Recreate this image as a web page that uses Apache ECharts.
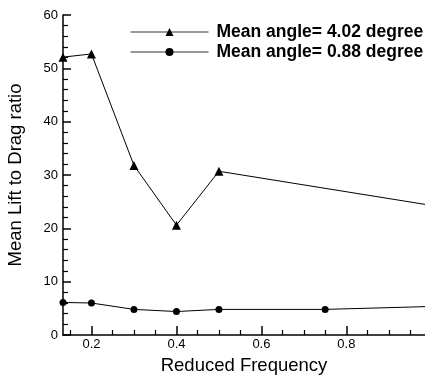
<!DOCTYPE html>
<html>
<head>
<meta charset="utf-8">
<script src="https://cdn.jsdelivr.net/npm/echarts@6/dist/echarts.min.js"></script>
<style>
  html, body { margin: 0; padding: 0; background: #fff; }
  #chart { width: 425px; height: 377px; }
</style>
</head>
<body>
<div id="chart"></div>
<script>
// Reduced frequency samples and mean lift-to-drag ratio for two mean angles
const seriesNames = ['Mean angle= 4.02 degree', 'Mean angle= 0.88 degree'];
const freqHigh = [0.133, 0.2, 0.3, 0.4, 0.5, 1.0];
const ratioHigh = [52.1, 52.7, 31.8, 20.6, 30.7, 24.3];
const freqLow = [0.133, 0.2, 0.3, 0.4, 0.5, 0.75, 1.0];
const ratioLow = [6.1, 6.0, 4.8, 4.4, 4.8, 4.8, 5.35];

// Axis ranges and tick positions
const xMin = 0.133, xMax = 0.985;
const xMajorTicks = [0.2, 0.4, 0.6, 0.8];
const xMinorTicks = [0.15, 0.25, 0.3, 0.35, 0.45, 0.5, 0.55, 0.65, 0.7, 0.75, 0.85, 0.9, 0.95];
const yMin = 0, yMax = 60, yStep = 10;

const pairs = (xs, ys) => xs.map((x, i) => [x, ys[i]]);
const font = 'Liberation Sans, Arial, sans-serif';

const chart = echarts.init(document.getElementById('chart'));
chart.setOption({
  animation: false,
  backgroundColor: '#fff',
  grid: { left: 63, top: 15, right: 0, bottom: 42, outerBoundsMode: 'none', containLabel: false },
  legend: {
    orient: 'vertical',
    left: 125,
    top: 17,
    itemWidth: 78,
    itemHeight: 10,
    itemGap: 0,
    lineStyle: { width: 1, color: '#333' },
    textStyle: {
      fontFamily: font, fontSize: 17.5, fontWeight: 'bold', color: '#000',
      lineHeight: 20, padding: [0, 0, 0, 3]
    },
    data: seriesNames
  },
  xAxis: [{
    type: 'value',
    min: xMin, max: xMax,
    name: 'Reduced Frequency',
    nameLocation: 'middle',
    nameGap: 21,
    nameTextStyle: { fontFamily: font, fontSize: 18.5, color: '#000' },
    axisLine: { show: true, lineStyle: { color: '#000', width: 1.5 } },
    axisTick: { show: true, inside: true, length: 9, customValues: xMajorTicks, lineStyle: { color: '#000', width: 1.5 } },
    axisLabel: { customValues: xMajorTicks, fontFamily: font, fontSize: 13, color: '#000', margin: 3 },
    splitLine: { show: false }
  }, {
    type: 'value',
    min: xMin, max: xMax,
    position: 'bottom',
    axisLine: { show: false },
    axisTick: { show: true, inside: true, length: 5, customValues: xMinorTicks, lineStyle: { color: '#000', width: 1.2 } },
    axisLabel: { show: false },
    splitLine: { show: false }
  }],
  yAxis: {
    type: 'value',
    min: yMin, max: yMax, interval: yStep,
    name: 'Mean Lift to Drag ratio',
    nameLocation: 'middle',
    nameGap: 38,
    nameRotate: 90,
    nameTextStyle: { fontFamily: font, fontSize: 18.5, color: '#000' },
    axisLine: { show: true, lineStyle: { color: '#000', width: 1.5 } },
    axisTick: { show: true, inside: true, length: 8, lineStyle: { color: '#000', width: 1.5 } },
    minorTick: { show: true, splitNumber: 5, length: 5, lineStyle: { color: '#000', width: 1.2 } },
    axisLabel: { fontFamily: font, fontSize: 13, color: '#000', margin: 5 },
    splitLine: { show: false }
  },
  series: [{
    name: seriesNames[0],
    type: 'line',
    xAxisIndex: 0,
    data: pairs(freqHigh, ratioHigh),
    symbol: 'triangle',
    symbolSize: 9,
    lineStyle: { color: '#000', width: 1 },
    itemStyle: { color: '#000' },
    clip: true
  }, {
    name: seriesNames[1],
    type: 'line',
    xAxisIndex: 0,
    data: pairs(freqLow, ratioLow),
    symbol: 'circle',
    symbolSize: 7,
    lineStyle: { color: '#000', width: 1 },
    itemStyle: { color: '#000' },
    clip: true
  }]
});
</script>
</body>
</html>
